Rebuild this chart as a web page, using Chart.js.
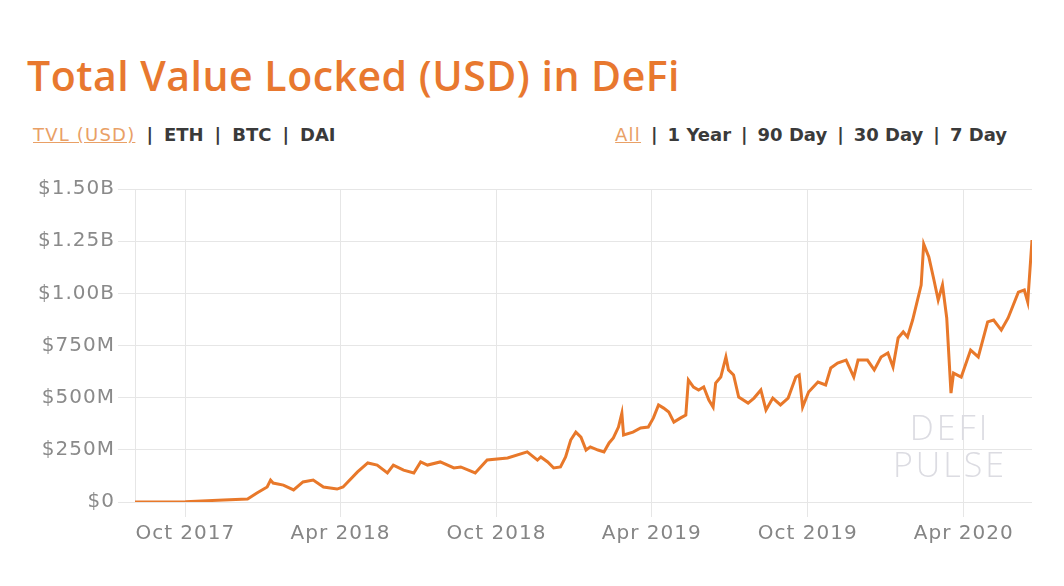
<!DOCTYPE html>
<html>
<head>
<meta charset="utf-8">
<script src="https://cdn.jsdelivr.net/npm/chart.js@4.4.1/dist/chart.umd.min.js"></script>
<style>
    html, body {
        margin: 0;
        padding: 0;
        background: #fff;
        width: 1064px;
        height: 586px;
        overflow: hidden;
        font-family: "Open Sans", sans-serif;
    }
    .title {
        position: absolute;
        left: 27px;
        top: 47px;
        margin: 0;
        font-size: 41px;
        font-weight: 600;
        letter-spacing: 0.5px;
        color: #e8782f;
        white-space: nowrap;
    }
    .nav {
        position: absolute;
        top: 124px;
        font-family: "DejaVu Sans", sans-serif;
        font-size: 18px;
        font-weight: bold;
        color: #3a3a3a;
        white-space: nowrap;
    }
    .nav.left { left: 33px; }
    .nav.right { right: 57px; }
    .nav .sep { margin: 0 11px; }
    .nav.right .sep { margin: 0 10px; }
    .nav .on {
        color: #e9a066;
        text-decoration: underline;
        font-weight: normal;
        letter-spacing: 1.2px;
    }
    .chart-box {
        position: absolute;
        left: 0;
        top: 170px;
        width: 1040px;
        height: 380px;
    }
</style>
</head>
<body>
<h1 class="title">Total Value Locked (USD) in DeFi</h1>
<div class="nav left"><span class="on">TVL (USD)</span><span class="sep">|</span>ETH<span class="sep">|</span>BTC<span class="sep">|</span>DAI</div>
<div class="nav right"><span class="on">All</span><span class="sep">|</span>1 Year<span class="sep">|</span>90 Day<span class="sep">|</span>30 Day<span class="sep">|</span>7 Day</div>
<div class="chart-box"><canvas id="tvl-chart"></canvas></div>

<script>
// 日期
const dates = [
    '2017-08-03', '2017-10-01', '2017-11-15', '2017-12-13', '2017-12-24', '2018-01-05',
    '2018-01-09', '2018-01-12', '2018-01-24', '2018-02-05', '2018-02-16', '2018-02-28',
    '2018-03-12', '2018-03-28', '2018-04-04', '2018-04-21', '2018-05-03', '2018-05-14',
    '2018-05-26', '2018-06-02', '2018-06-14', '2018-06-26', '2018-07-04', '2018-07-12',
    '2018-07-27', '2018-08-12', '2018-08-20', '2018-09-06', '2018-09-20', '2018-10-14',
    '2018-11-06', '2018-11-18', '2018-11-22', '2018-11-30', '2018-12-07', '2018-12-15',
    '2018-12-21', '2018-12-27', '2019-01-02', '2019-01-08', '2019-01-14', '2019-01-19',
    '2019-01-28', '2019-02-04', '2019-02-10', '2019-02-15', '2019-02-21', '2019-02-25',
    '2019-02-27', '2019-03-10', '2019-03-19', '2019-03-28', '2019-04-03', '2019-04-09',
    '2019-04-15', '2019-04-21', '2019-04-27', '2019-05-05', '2019-05-11', '2019-05-14',
    '2019-05-20', '2019-05-26', '2019-06-01', '2019-06-07', '2019-06-12', '2019-06-15',
    '2019-06-21', '2019-06-27', '2019-06-30', '2019-07-06', '2019-07-12', '2019-07-23',
    '2019-07-30', '2019-08-07', '2019-08-13', '2019-08-21', '2019-08-30', '2019-09-08',
    '2019-09-17', '2019-09-21', '2019-09-25', '2019-10-02', '2019-10-13', '2019-10-22',
    '2019-10-28', '2019-11-05', '2019-11-15', '2019-11-24', '2019-11-29', '2019-12-10',
    '2019-12-18', '2019-12-26', '2020-01-03', '2020-01-09', '2020-01-15', '2020-01-21',
    '2020-01-26', '2020-02-01', '2020-02-11', '2020-02-14', '2020-02-20', '2020-02-26',
    '2020-03-02', '2020-03-07', '2020-03-12', '2020-03-17', '2020-03-20', '2020-03-29',
    '2020-04-09', '2020-04-18', '2020-04-29', '2020-05-06', '2020-05-15', '2020-05-23',
    '2020-06-04', '2020-06-11', '2020-06-15', '2020-06-20'
];

// 锁仓总值（百万美元）
const tvlMillions = [
    0, 1, 10, 14, 43, 72,
    105, 91, 81, 58, 96, 105,
    72, 62, 72, 144, 187, 177,
    139, 177, 153, 139, 192, 177,
    192, 163, 168, 139, 201, 211,
    240, 201, 216, 192, 163, 168,
    216, 297, 335, 311, 249, 264,
    249, 240, 283, 307, 359, 426,
    321, 335, 355, 359, 403, 465,
    450, 431, 383, 403, 417, 585,
    551, 537, 551, 489, 455, 570,
    599, 695, 633, 609, 503, 474,
    498, 537, 441, 498, 465, 498,
    599, 609, 455, 527, 575, 561,
    642, 666, 680, 599, 680, 680,
    633, 695, 714, 647, 786, 815,
    791, 872, 1040, 1236, 1174, 1064,
    968, 1040, 882, 522, 618, 599,
    728, 695, 863, 872, 824, 882,
    1006, 1016, 958, 1255
];

// 坐标轴刻度
const xTickDates = ['2017-10-01', '2018-04-01', '2018-10-01', '2019-04-01', '2019-10-01', '2020-04-01'];
const xTickLabels = ['Oct 2017', 'Apr 2018', 'Oct 2018', 'Apr 2019', 'Oct 2019', 'Apr 2020'];
const yTickValues = [0, 250, 500, 750, 1000, 1250, 1500];
const yTickLabels = ['$0', '$250M', '$500M', '$750M', '$1.00B', '$1.25B', '$1.50B'];

const toTime = (d) => new Date(d + 'T00:00:00Z').getTime();
const xTickTimes = xTickDates.map(toTime);
const points = dates.map((d, i) => ({ x: toTime(d), y: tvlMillions[i] }));

// 刻度文字字距（画布尺寸变化会重置状态，所以每次都设）
const spacing = {
    id: 'spacing',
    beforeLayout: (chart) => { chart.ctx.letterSpacing = '1px'; },
    beforeDraw: (chart) => { chart.ctx.letterSpacing = '1px'; }
};

// 水印
const watermark = {
    id: 'watermark',
    beforeDatasetsDraw: (chart) => {
        const { ctx, chartArea } = chart;
        const cx = chartArea.right - 82;
        ctx.save();
        ctx.fillStyle = '#dcdce2';
        ctx.textAlign = 'center';
        ctx.textBaseline = 'middle';
        ctx.font = '300 34px "Open Sans"';
        ctx.letterSpacing = '3px';
        ctx.fillText('DEFI', cx, chartArea.top + 241);
        ctx.fillText('PULSE', cx, chartArea.top + 278);
        ctx.restore();
    }
};

const gridColor = '#e6e6e6';

new Chart(document.getElementById('tvl-chart'), {
    type: 'line',
    data: {
        datasets: [{
            data: points,
            borderColor: '#e8782a',
            borderWidth: 3,
            pointRadius: 0,
            tension: 0,
            fill: false
        }]
    },
    options: {
        responsive: true,
        maintainAspectRatio: false,
        animation: false,
        layout: { padding: { top: 19, right: 8 } },
        plugins: {
            legend: { display: false },
            tooltip: { enabled: false }
        },
        scales: {
            x: {
                type: 'linear',
                min: points[0].x,
                max: points[points.length - 1].x,
                afterBuildTicks: (scale) => {
                    scale.ticks = xTickTimes.map(v => ({ value: v }));
                },
                afterFit: (scale) => { scale.height = 48; },
                ticks: {
                    autoSkip: false,
                    maxRotation: 0,
                    padding: 5,
                    color: '#858585',
                    font: { family: 'DejaVu Sans', size: 20 },
                    callback: (value) => xTickLabels[xTickTimes.indexOf(value)] || ''
                },
                grid: { color: gridColor, tickLength: 15 },
                border: { display: false }
            },
            y: {
                min: 0,
                max: 1500,
                afterBuildTicks: (scale) => {
                    scale.ticks = yTickValues.map(v => ({ value: v }));
                },
                afterFit: (scale) => { scale.width = 135; },
                ticks: {
                    padding: 3,
                    color: '#8a8a8a',
                    font: { family: 'DejaVu Sans', size: 20 },
                    callback: (value) => yTickLabels[yTickValues.indexOf(value)]
                },
                grid: { color: gridColor, tickLength: 17 },
                border: { display: true, color: gridColor }
            }
        }
    },
    plugins: [spacing, watermark]
});
</script>
</body>
</html>
